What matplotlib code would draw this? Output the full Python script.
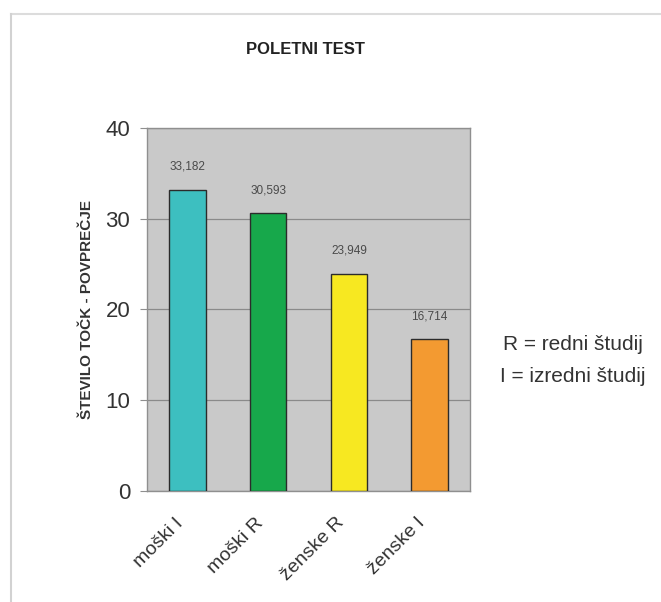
import matplotlib
matplotlib.use("Agg")
import matplotlib.pyplot as plt
from matplotlib.lines import Line2D
from matplotlib.transforms import ScaledTranslation

plt.rcParams["font.family"] = ["Liberation Sans", "DejaVu Sans"]

categories = ["moški I", "moški R", "ženske R", "ženske I"]
values = [33.182, 30.593, 23.949, 16.714]
colors = ["#3dbfc0", "#17a84b", "#f7e821", "#f39a31"]

fig = plt.figure(figsize=(6.61, 6.02), dpi=100)
ax = fig.add_axes([0.2224, 0.1844, 0.4887, 0.6030])
ax.set_facecolor("#c9c9c9")

x = range(len(categories))
bars = ax.bar(x, values, width=0.45, color=colors, edgecolor="#2b2b2b",
              linewidth=1.0, zorder=3)
for b, v in zip(bars, values):
    ax.text(b.get_x() + b.get_width() / 2, v + 1.9,
            f"{v:.3f}".replace(".", ","), ha="center", va="bottom",
            fontsize=8.5, color="#4a4a4a")

ax.set_xlim(-0.5, len(categories) - 0.5)
ax.set_ylim(0, 40)
ax.set_yticks([0, 10, 20, 30, 40])
ax.yaxis.grid(True, color="#8a8a8a", linewidth=0.9, zorder=0)
ax.set_axisbelow(True)
for s in ax.spines.values():
    s.set_color("#8f8f8f")
    s.set_linewidth(1.0)
ax.tick_params(axis="y", labelsize=16, length=5, color="#8f8f8f",
               labelcolor="#333333", pad=7)
ax.tick_params(axis="x", length=0, pad=4)
ax.set_xticks(list(x))
ax.set_xticklabels(categories, rotation=45, ha="right", rotation_mode="anchor",
                   fontsize=14, color="#333333")
shift = ScaledTranslation(-13 / 100, -18 / 100, fig.dpi_scale_trans)
for lab in ax.get_xticklabels():
    lab.set_transform(lab.get_transform() + shift)
ax.set_ylabel("ŠTEVILO TOČK - POVPREČJE", fontsize=11, fontweight="bold",
              color="#333333", labelpad=8)

fig.text(0.462, 0.917, "POLETNI TEST", ha="center", va="center",
         fontsize=12, fontweight="bold", color="#222222")
fig.text(0.867, 0.427, "R = redni študij", ha="center", va="center",
         fontsize=15, color="#333333")
fig.text(0.867, 0.374, "I = izredni študij", ha="center", va="center",
         fontsize=15, color="#333333")

# faint chart-area border (top and left)
fig.add_artist(Line2D([0.017, 1.0], [0.977, 0.977], color="#dcdcdc", lw=1.5))
fig.add_artist(Line2D([0.017, 0.017], [0.0, 0.977], color="#d2d2d2", lw=1.5))

fig.savefig("out.png", dpi=100)
